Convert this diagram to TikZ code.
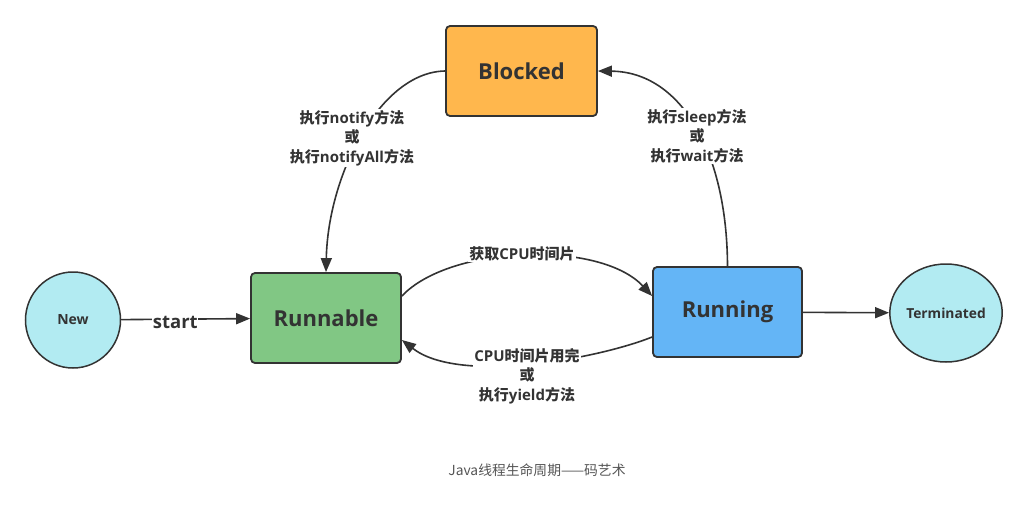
\documentclass[tikz,border=0pt]{standalone}
\usepackage{fontspec}
\setmainfont{Open Sans}
\newfontfamily\cjk{Noto Sans CJK SC}
\usetikzlibrary{arrows.meta,shapes.geometric}
\definecolor{lineC}{HTML}{333333}
\definecolor{orangeC}{HTML}{FFB74D}
\definecolor{greenC}{HTML}{81C784}
\definecolor{blueC}{HTML}{64B5F6}
\definecolor{cyanC}{HTML}{B2EBF2}
\definecolor{capC}{HTML}{555555}
\begin{document}
\begin{tikzpicture}[x=1pt,y=1pt,
  state/.style={draw=lineC, line width=1.8pt, rounded corners=4pt, minimum width=150pt, minimum height=90pt, font=\fontsize{22}{26}\selectfont\bfseries, text=lineC},
  endpt/.style={ellipse, draw=lineC, line width=1.5pt, fill=cyanC, inner sep=0pt, font=\fontsize{14}{16}\selectfont\bfseries, text=lineC},
  conn/.style={draw=lineC, line width=1.6pt},
  arr/.style={conn, -{Triangle[length=14pt,width=11pt]}},
  lbl/.style={fill=white, inner sep=1pt, align=center, font=\fontsize{15}{19.5}\selectfont\bfseries, text=lineC}]
\useasboundingbox[fill=white] (0,0) rectangle (1024,-525);

\node[state, fill=orangeC, minimum width=151pt] (blocked) at (521.5,-71) {Blocked};
\node[state, fill=greenC] (runnable) at (326,-318) {Runnable};
\node[state, fill=blueC, minimum width=149pt] (running) at (727.5,-312) {Running};
\node[endpt, minimum width=95pt, minimum height=96pt] (new) at (73,-320) {New};
\node[endpt, minimum width=104pt, minimum height=98pt, font=\fontsize{13.8}{16}\selectfont\bfseries] (term) at (946,-313) {Terminated};

% connectors
\draw[arr] (new) -- (runnable) node[pos=0.42, lbl, font=\fontsize{18.5}{20}\selectfont\bfseries, yshift=-3pt, inner sep=0.5pt] (startl) {start};
\draw[arr] ([yshift=22pt]runnable.east) .. controls (450,-245) and (600,-240) .. ([yshift=16pt]running.west);
\draw[arr] ([yshift=-25pt]running.west) .. controls (600,-358) and (460,-385) .. ([yshift=-22pt]runnable.east);
\draw[arr] (blocked.west) .. controls (380,-72) and (328,-175) .. (runnable.north);
\draw[arr] (running.north) .. controls (727,-150) and (680,-72) .. (blocked.east);
\draw[arr] (running) -- (term);

% labels
\node[lbl] (l1) at (352,-138) {{\cjk 执行}notify{\cjk 方法}\\{\cjk 或}\\{\cjk 执行}notifyAll{\cjk 方法}};
\node[lbl] (l2) at (697,-136) {{\cjk 执行}sleep{\cjk 方法}\\{\cjk 或}\\{\cjk 执行}wait{\cjk 方法}};
\node[lbl] (l3) at (522,-254) {{\cjk 获取}CPU{\cjk 时间片}};
\node[lbl] (l4) at (527,-376) {CPU{\cjk 时间片用完}\\{\cjk 或}\\{\cjk 执行}yield{\cjk 方法}};

\node[font=\fontsize{13.8}{16}\selectfont\cjk, text=capC] (cap) at (537,-470) {Java线程生命周期——码艺术};
\end{tikzpicture}
\end{document}
